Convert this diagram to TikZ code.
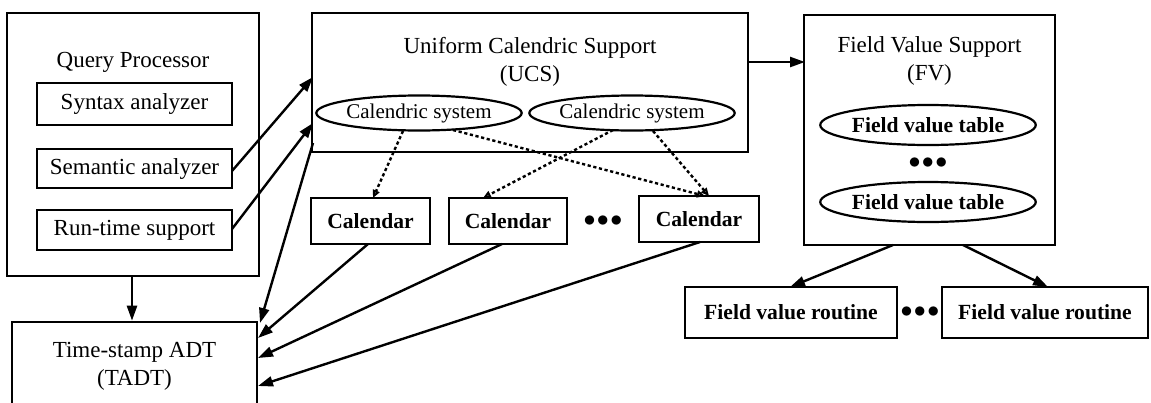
\documentclass[tikz,border=0pt]{standalone}
\usepackage{fontspec}
\setmainfont{Liberation Serif}
\usetikzlibrary{arrows.meta,shapes.geometric}
\begin{document}
\begin{tikzpicture}[x=0.5pt,y=-0.5pt,
  box/.style={draw,line width=1.3pt,inner sep=0pt,align=center},
  ell/.style={draw,ellipse,line width=1.1pt,inner sep=0pt},
  lbl/.style={inner sep=0pt,align=center},
  bld/.style={font=\fontsize{10.8}{12.5}\selectfont\bfseries},
  ellt/.style={font=\fontsize{10.5}{12.5}\selectfont},
  arr/.style={line width=1.2pt,-{Triangle[length=7.5pt,width=5pt]}},
  dotarr/.style={line width=1.2pt,dash pattern=on 1.6pt off 1.3pt,-{Triangle[length=4pt,width=3.5pt,open]}},
  dots/.style={inner sep=0pt,font=\bfseries}
]
\useasboundingbox (0,0) rectangle (1151,402);
\clip (0,0) rectangle (1151,402);
\fontsize{11.5}{14}\selectfont
% Query processor
\node[box,minimum width=126pt,minimum height=131.5pt] (qp) at (133,144.5) {};
\node[lbl] (qpt) at (133,62) {Query Processor};
\node[box,minimum width=97.5pt,minimum height=21pt] (syn) at (134.5,104) {Syntax analyzer};
\node[box,minimum width=97.5pt,minimum height=19.5pt] (sem) at (134.5,168.5) {Semantic analyzer};
\node[box,minimum width=97.5pt,minimum height=20pt] (rts) at (134.5,230) {Run-time support};
% TADT
\node[box,minimum width=122.5pt,minimum height=44.5pt] (tadt) at (134.5,366.5) {Time-stamp ADT\\(TADT)};
% UCS
\node[box,minimum width=218pt,minimum height=69.5pt] (ucs) at (530,82.5) {};
\node[lbl] (ucst) at (530,62) {Uniform Calendric Support\\(UCS)};
\node[ell,ellt,minimum width=99pt,minimum height=17.5pt] (cs1) at (419,113) {Calendric system};
\node[ell,ellt,minimum width=100pt,minimum height=17.5pt] (cs2) at (632,113) {Calendric system};
% Calendars
\node[box,bld,minimum width=59.5pt,minimum height=23pt] (cal1) at (370.5,221) {Calendar};
\node[box,bld,minimum width=59pt,minimum height=23pt] (cal2) at (508,221) {Calendar};
\node[box,bld,minimum width=60pt,minimum height=23pt] (cal3) at (699,219) {Calendar};
\node[dots] (cdots) at (603,221) {$\bullet\!\bullet\!\bullet$};
% FV
\node[box,minimum width=125.5pt,minimum height=115pt] (fv) at (929.5,130) {};
\node[lbl] (fvt) at (929.5,61) {Field Value Support\\(FV)};
\node[ell,bld,minimum width=101.5pt,minimum height=20pt] (fvt1) at (928,125) {Field value table};
\node[dots] (fdots) at (928,163) {$\bullet\!\bullet\!\bullet$};
\node[ell,bld,minimum width=101.5pt,minimum height=20pt] (fvt2) at (928,202) {Field value table};
% routines
\node[box,bld,minimum width=106pt,minimum height=25.5pt] (fvr1) at (791,312.5) {Field value routine};
\node[box,bld,minimum width=103pt,minimum height=25.5pt] (fvr2) at (1045,312.5) {Field value routine};
\node[dots] (rdots) at (920,312) {$\bullet\!\bullet\!\bullet$};
% coordinates on borders
\coordinate (semE) at (232,171);
\coordinate (rtsE) at (232,229);
\coordinate (ucsA) at (313,77);
\coordinate (ucsB) at (313,123);
\coordinate (ucsC) at (313,143);
\coordinate (tA) at (260,323);
\coordinate (tB) at (258,338);
\coordinate (tC) at (258,358);
\coordinate (tD) at (258,386);
\coordinate (c1S) at (368,244);
\coordinate (c2S) at (502,244);
\coordinate (c3S) at (700,242);
\coordinate (ucsR) at (748,62);
\coordinate (fvL) at (805,62);
\coordinate (fvB1) at (893,245);
\coordinate (fvB2) at (963,245);
\coordinate (r1T) at (790,287);
\coordinate (r2T) at (1048,287);
\coordinate (e1a) at (403,131);
\coordinate (e1b) at (453,130);
\coordinate (e2a) at (613,130);
\coordinate (e2b) at (653,131);
\coordinate (c1T) at (373,198);
\coordinate (c2T) at (483,198);
\coordinate (c3Ta) at (705,196);
\coordinate (c3Tb) at (709,196);
% connectors
\draw[arr] (qp.south -| 132,0) -- (tadt.north -| 132,0);
\draw[arr] (semE) -- (ucsA);
\draw[arr] (rtsE) -- (ucsB);
\draw[arr] (ucsC) -- (tA);
\draw[arr] (c1S) -- (tB);
\draw[arr] (c2S) -- (tC);
\draw[arr] (c3S) -- (tD);
\draw[arr] (ucsR) -- (fvL);
\draw[arr] (fvB1) -- (r1T);
\draw[arr] (fvB2) -- (r2T);
\draw[dotarr] (e1a) -- (c1T);
\draw[dotarr] (e1b) -- (c3Ta);
\draw[dotarr] (e2a) -- (c2T);
\draw[dotarr] (e2b) -- (c3Tb);
\end{tikzpicture}
\end{document}
